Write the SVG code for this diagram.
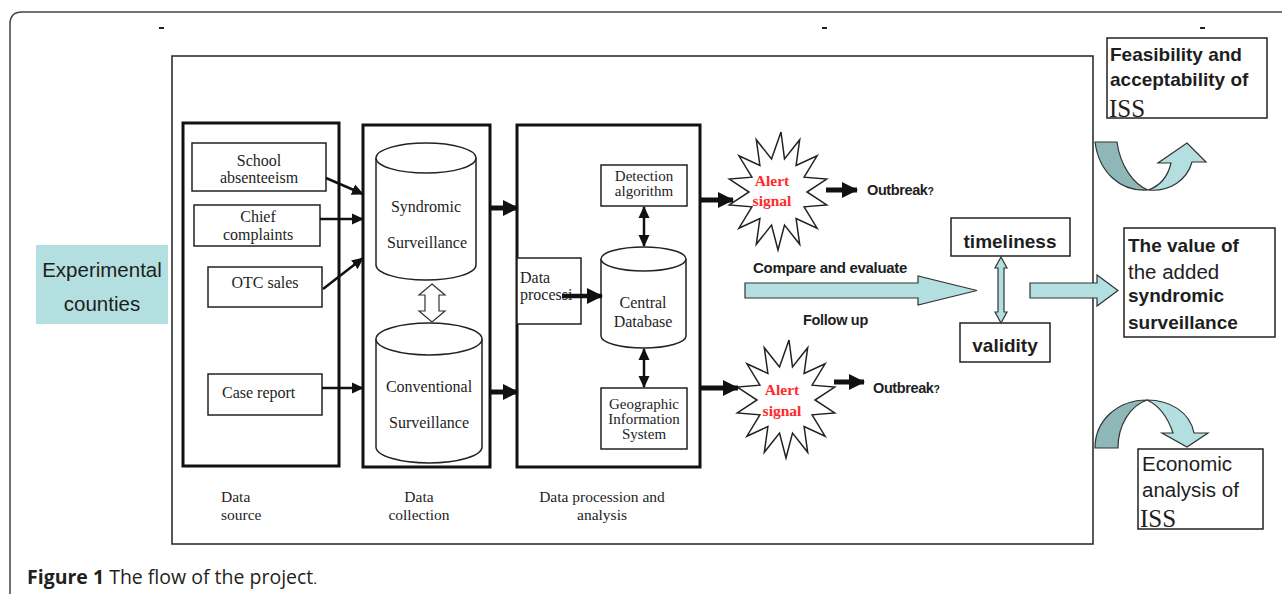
<svg xmlns="http://www.w3.org/2000/svg" width="1282" height="594" viewBox="0 0 1282 594">
<style>
.s{font-family:"Liberation Serif","Times New Roman",serif;fill:#1e1e1e}
.sc{text-anchor:middle}
.a{font-family:"Liberation Sans",Arial,sans-serif;fill:#1e1e1e}
.b{font-weight:bold}
.box{fill:#fff;stroke:#222;stroke-width:1.5}
.thick{fill:none;stroke:#111;stroke-width:3}
.cyl{fill:#fff;stroke:#222;stroke-width:1.5}
.teal{fill:#b3dfe0;stroke:#333;stroke-width:1.2}
.dteal{fill:#8fb7b8;stroke:#333;stroke-width:1.2}
.ln{fill:none;stroke:#111}
.red{fill:#ff2a2a;font-weight:bold}
</style>
<defs>
<marker id="ma" markerUnits="userSpaceOnUse" markerWidth="12" markerHeight="12" refX="11" refY="6" orient="auto-start-reverse"><path d="M0,0.5 L12,6 L0,11.5 z" fill="#111"/></marker>
<marker id="mb" markerUnits="userSpaceOnUse" markerWidth="16" markerHeight="16" refX="15" refY="8" orient="auto"><path d="M0,0 L16,8 L0,16 z" fill="#111"/></marker>
<path id="star" d="M3,-60 L6.5,-33.1 L21.7,-52.3 L18.1,-26.6 L39.1,-36.2 L26.1,-14.8 L48.7,-12.9 L29,0 L48.7,12.9 L26.1,14.8 L39.1,36.2 L18.1,26.6 L21.7,52.3 L6.5,33.1 L0,58 L-6.5,33.1 L-21.7,52.3 L-18.1,26.6 L-39.1,36.2 L-26.1,14.8 L-48.7,12.9 L-29,0 L-48.7,-12.9 L-26.1,-14.8 L-39.1,-36.2 L-18.1,-26.6 L-21.7,-52.3 L-6.5,-33.1 Z" fill="#fff" stroke="#222" stroke-width="1.5"/>
</defs>
<rect width="1282" height="594" fill="#fff"/>
<!-- outer frame -->
<path d="M10,594 L10,24 Q10,12 22,12 L1282,12" fill="none" stroke="#444" stroke-width="1.5"/>
<g fill="#222">
<rect x="159" y="27" width="5" height="2"/>
<rect x="822" y="27" width="5" height="2"/>
<rect x="1200" y="27" width="5" height="2"/>
</g>
<!-- main frame -->
<rect id="main-frame" x="172" y="56" width="921" height="488" fill="#fff" stroke="#222" stroke-width="1.5"/>

<g id="experimental-counties">
<rect x="36" y="245" width="132" height="79" fill="#b3dfe0"/>
<text class="a" x="102" y="277" font-size="20.5" text-anchor="middle" fill="#333">Experimental</text>
<text class="a" x="102" y="311" font-size="20.5" text-anchor="middle" fill="#333">counties</text>
</g>

<g id="data-source">
<rect class="thick" x="183" y="123" width="156" height="343"/>
<text class="s" x="221" y="502" font-size="15.5">Data</text>
<text class="s" x="221" y="520" font-size="15.5">source</text>
</g>
<g id="school-absenteeism">
<rect class="box" x="192" y="143" width="134" height="48"/>
<text class="s sc" x="259" y="166" font-size="16">School</text>
<text class="s sc" x="259" y="183" font-size="16">absenteeism</text>
</g>
<g id="chief-complaints">
<rect class="box" x="194" y="205" width="126" height="41"/>
<text class="s sc" x="258" y="222" font-size="16">Chief</text>
<text class="s sc" x="258" y="240" font-size="16">complaints</text>
</g>
<g id="otc-sales">
<rect class="box" x="208" y="267" width="114" height="40"/>
<text class="s sc" x="265" y="288" font-size="16">OTC sales</text>
</g>
<g id="case-report">
<rect class="box" x="208" y="374" width="114" height="41"/>
<text class="s" x="222" y="398" font-size="16">Case report</text>
</g>

<g id="data-collection">
<rect class="thick" x="363" y="125" width="127" height="342" stroke-width="2.6"/>
<text class="s sc" x="419" y="502" font-size="15.5">Data</text>
<text class="s sc" x="419" y="520" font-size="15.5">collection</text>
</g>
<g id="syndromic-surveillance">
<path class="cyl" d="M376,158 L376,265 A50,15 0 0 0 476,265 L476,158"/>
<ellipse class="cyl" cx="426" cy="158" rx="50" ry="15"/>
<text class="s sc" x="426" y="212" font-size="16">Syndromic</text>
<text class="s sc" x="427" y="248" font-size="16">Surveillance</text>
</g>
<g id="conventional-surveillance">
<path class="cyl" d="M376,339 L376,447 A53,16 0 0 0 482,447 L482,339"/>
<ellipse class="cyl" cx="429" cy="339" rx="53" ry="16"/>
<text class="s sc" x="429" y="392" font-size="16">Conventional</text>
<text class="s sc" x="429" y="428" font-size="16">Surveillance</text>
</g>

<g id="data-procession">
<rect class="thick" x="517" y="125" width="183" height="342" stroke-width="2.6"/>
<text class="s sc" x="602" y="502" font-size="15.5">Data procession and</text>
<text class="s sc" x="602" y="520" font-size="15.5">analysis</text>
</g>
<g id="data-processing">
<rect class="box" x="517" y="258" width="64" height="66"/>
<text class="s" x="520" y="283" font-size="16">Data</text>
<text class="s" x="520" y="300" font-size="16">processi</text>
</g>
<g id="detection-algorithm">
<rect class="box" x="601" y="165" width="86" height="41"/>
<text class="s sc" x="644" y="181" font-size="15">Detection</text>
<text class="s sc" x="644" y="196" font-size="15">algorithm</text>
</g>
<g id="central-database">
<path class="cyl" d="M601,259 L601,336 A42.5,12 0 0 0 686,336 L686,259"/>
<ellipse class="cyl" cx="643.5" cy="259" rx="42.5" ry="12"/>
<text class="s sc" x="643" y="308" font-size="16">Central</text>
<text class="s sc" x="643" y="327" font-size="16">Database</text>
</g>
<g id="gis">
<rect class="box" x="601" y="388" width="86" height="61"/>
<text class="s sc" x="644" y="409" font-size="15">Geographic</text>
<text class="s sc" x="644" y="424" font-size="15">Information</text>
<text class="s sc" x="644" y="439" font-size="15">System</text>
</g>

<g id="alert-signal-1">
<use href="#star" transform="translate(778,192)"/>
<text class="s sc red" x="772" y="186" font-size="15.5">Alert</text>
<text class="s sc red" x="772" y="206" font-size="15.5">signal</text>
</g>
<g id="alert-signal-2">
<use href="#star" transform="translate(786,400)"/>
<text class="s sc red" x="782" y="395" font-size="15.5">Alert</text>
<text class="s sc red" x="782" y="416" font-size="15.5">signal</text>
</g>
<g id="outbreak-1"><text class="a b" x="867" y="195" font-size="14.5" letter-spacing="-0.4">Outbreak<tspan font-size="10.5">?</tspan></text></g>
<g id="outbreak-2"><text class="a b" x="873" y="393" font-size="14.5" letter-spacing="-0.4">Outbreak<tspan font-size="10.5">?</tspan></text></g>

<g id="compare-label"><text class="a b" x="753" y="273" font-size="15" letter-spacing="-0.3">Compare and evaluate</text></g>
<g id="follow-up-label"><text class="a b" x="803" y="325" font-size="14.5" letter-spacing="-0.3">Follow up</text></g>

<g id="timeliness">
<rect class="box" x="951" y="218" width="119" height="38"/>
<text class="a b" x="1010" y="248" font-size="19" text-anchor="middle">timeliness</text>
</g>
<g id="validity">
<rect class="box" x="960" y="323" width="90" height="39"/>
<text class="a b" x="1005" y="352" font-size="19" text-anchor="middle">validity</text>
</g>

<g id="value-box">
<rect class="box" x="1124" y="228" width="151" height="109"/>
<text class="a b" x="1128" y="252" font-size="19">The value of</text>
<text class="a" x="1128" y="279" font-size="20.5">the added</text>
<text class="a b" x="1128" y="302" font-size="19">syndromic</text>
<text class="a b" x="1128" y="329" font-size="19">surveillance</text>
</g>
<g id="feasibility-box">
<rect class="box" x="1107" y="38" width="160" height="80"/>
<text class="a b" x="1110" y="61" font-size="19">Feasibility and</text>
<text class="a b" x="1110" y="86" font-size="19">acceptability of</text>
<text class="s" x="1109" y="117" font-size="25">ISS</text>
</g>
<g id="economic-box">
<rect class="box" x="1138" y="449" width="125" height="80"/>
<text class="a" x="1142" y="471" font-size="20.5">Economic</text>
<text class="a" x="1142" y="497" font-size="20.5">analysis of</text>
<text class="s" x="1140" y="527" font-size="25">ISS</text>
</g>

<g id="connectors">
<line class="ln" x1="326" y1="178" x2="363" y2="194" stroke-width="2.5" marker-end="url(#ma)"/>
<line class="ln" x1="320" y1="219" x2="363" y2="219" stroke-width="2.5" marker-end="url(#ma)"/>
<line class="ln" x1="323" y1="289" x2="363" y2="258" stroke-width="2.5" marker-end="url(#ma)"/>
<line class="ln" x1="322" y1="388" x2="363" y2="388" stroke-width="2.5" marker-end="url(#ma)"/>
<polygon points="432,284 445,295 439,295 439,311 445,311 432,322 419,311 425,311 425,295 419,295" fill="#fff" stroke="#333" stroke-width="1.2"/>
<line class="ln" x1="490" y1="208" x2="518" y2="208" stroke-width="5" marker-end="url(#mb)"/>
<line class="ln" x1="490" y1="392" x2="518" y2="392" stroke-width="5" marker-end="url(#mb)"/>
<line class="ln" x1="562" y1="296" x2="602" y2="296" stroke-width="4.5" marker-end="url(#mb)"/>
<line class="ln" x1="644" y1="207" x2="644" y2="246" stroke-width="2.5" marker-start="url(#ma)" marker-end="url(#ma)"/>
<line class="ln" x1="644" y1="349" x2="644" y2="387" stroke-width="2.5" marker-start="url(#ma)" marker-end="url(#ma)"/>
<line class="ln" x1="701" y1="200" x2="733" y2="200" stroke-width="5" marker-end="url(#mb)"/>
<line class="ln" x1="701" y1="388" x2="738" y2="388" stroke-width="5" marker-end="url(#mb)"/>
<line class="ln" x1="826" y1="190" x2="857" y2="190" stroke-width="5" marker-end="url(#mb)"/>
<line class="ln" x1="834" y1="382" x2="864" y2="382" stroke-width="5" marker-end="url(#mb)"/>
<polygon class="teal" points="745,283 918,283 918,276 977,290.5 918,305 918,298 745,298"/>
<polygon class="teal" points="1001,257 1007,268 1004,268 1004,312 1007,312 1001,323 995,312 998,312 998,268 995,268"/>
<polygon class="teal" points="1030,283 1097,283 1097,275 1118,290.5 1097,306 1097,298 1030,298"/>
<path class="dteal" d="M1095,142 L1117,142 C1120,165 1133,184 1148,190 C1120,192 1099,172 1095,142 Z"/>
<path class="teal" d="M1148,190 C1160,186 1168,176 1171,163 L1158,163 L1187,143 L1206,162 L1192,162 C1187,180 1170,192 1148,190 Z"/>
<path class="dteal" d="M1095,448 C1095,420 1118,400 1147,400 C1130,406 1118,425 1118,448 Z"/>
<path class="teal" d="M1147,400 C1170,400 1190,412 1194,433 L1208,433 L1187,447 L1162,433 L1173,433 C1168,418 1160,406 1147,400 Z"/>
</g>

<text x="27" y="584" font-family="'Open Sans','Noto Sans',sans-serif" font-size="19.5" fill="#231f20"><tspan font-weight="bold">Figure 1</tspan> The flow of the project<tspan font-family="'Liberation Serif',serif" font-size="15">.</tspan></text>
</svg>
